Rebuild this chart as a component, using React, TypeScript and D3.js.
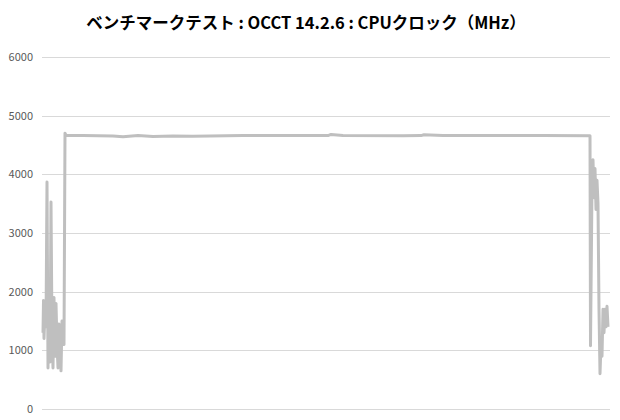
import React, { useEffect, useRef } from 'react';
import * as d3 from 'd3';

const width: number = 620;
const height: number = 420;

const title: string = 'ベンチマークテスト : OCCT 14.2.6 : CPUクロック（MHz）';
const yTicks: number[] = [0, 1000, 2000, 3000, 4000, 5000, 6000];

// elapsed seconds and CPU clock (MHz)
const seconds: number[] = [
  0, 0.5, 1, 2, 3, 4, 5, 5.5, 6, 7, 8, 9, 10, 11, 12, 13, 14, 15, 16, 17, 18, 19, 20, 21,
  22, 23, 40, 70, 80, 95, 110, 130, 150, 200, 285, 288, 300, 360, 378, 381, 400, 450, 500, 547,
  547.5, 549, 550, 551, 552, 553, 554, 555, 556, 557, 558, 559, 560, 561, 562, 563, 564, 565
];
const clock: number[] = [
  1300, 1850, 1200, 1700, 1400, 3870, 700, 1500, 1000, 800, 3530, 1300, 700, 1900, 900, 1800, 1100, 700, 1450, 1000, 650, 1500, 1200, 1100,
  4700, 4665, 4660, 4655, 4640, 4660, 4645, 4655, 4650, 4660, 4660, 4680, 4660, 4658, 4660, 4675, 4660, 4662, 4660, 4658,
  1080, 3800, 4250, 3600, 4100, 3400, 3900, 3500, 1700, 600, 1100, 900, 1700, 1300, 1700, 1400, 1750, 1400
];

const App = () => {
  const ref = useRef<SVGSVGElement>(null);

  useEffect(() => {
    const svg = d3.select(ref.current);
    svg.selectAll('*').remove();

    const xScale = d3.scaleLinear().domain([0, 565]).range([43, 608]);
    const yScale = d3.scaleLinear().domain([0, 6000]).range([409, 57]);

    svg.append('rect').attr('width', width).attr('height', height).attr('fill', '#ffffff');

    // Horizontal gridlines
    svg.selectAll('.grid')
      .data(yTicks)
      .enter()
      .append('line')
      .attr('x1', 42)
      .attr('x2', 610)
      .attr('y1', (d: number) => Math.round(yScale(d)) + 0.5)
      .attr('y2', (d: number) => Math.round(yScale(d)) + 0.5)
      .attr('stroke', '#d9d9d9')
      .attr('stroke-width', 1);

    // Tick labels
    svg.selectAll('.tick')
      .data(yTicks)
      .enter()
      .append('text')
      .attr('x', 33)
      .attr('y', (d: number) => yScale(d) + 4)
      .attr('text-anchor', 'end')
      .attr('font-family', '"Noto Sans CJK JP", "Noto Sans", sans-serif')
      .attr('font-size', 11)
      .attr('fill', '#595959')
      .text((d: number) => d);

    const line = d3.line<number>()
      .x((d: number, i: number) => xScale(seconds[i]))
      .y((d: number) => yScale(d));

    svg.append('path')
      .datum(clock)
      .attr('d', line)
      .attr('fill', 'none')
      .attr('stroke', '#bfbfbf')
      .attr('stroke-width', 3)
      .attr('stroke-linejoin', 'round');

    svg.append('text')
      .attr('x', 306)
      .attr('y', 29)
      .attr('text-anchor', 'middle')
      .attr('font-family', '"Noto Sans CJK JP", sans-serif')
      .attr('font-weight', 'bold')
      .attr('font-size', 16.5)
      .attr('fill', '#000000')
      .text(title);
  }, []);

  return (
    <svg ref={ref} width={width} height={height}
      style={{ position: 'absolute', left: 0, top: 0 }} />
  );
};

export default App;
